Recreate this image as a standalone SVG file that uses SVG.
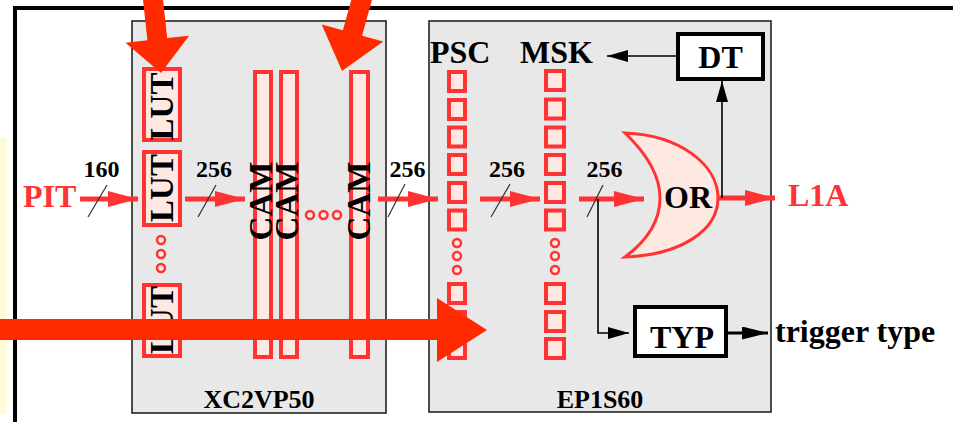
<svg xmlns="http://www.w3.org/2000/svg" width="953" height="422" viewBox="0 0 953 422">
<defs>
<style>
.t{font-family:"Liberation Serif","Times New Roman",serif;font-weight:bold;}
.blk{fill:#000;}
.red{fill:#ff3333;}
.chip{fill:#e8e8e8;stroke:#222;stroke-width:1.6;}
.cell{fill:#fde8e2;stroke:#ff3333;stroke-width:4;}
.dot{fill:#fde8e2;stroke:#ff3333;stroke-width:2.5;}
.wbox{fill:#fff;stroke:#000;stroke-width:4;}
.rl{stroke:#ff3333;stroke-width:5;fill:none;}
.slash{stroke:#333;stroke-width:1.2;fill:none;}
.bl{stroke:#000;stroke-width:1.6;fill:none;}
.ann{fill:#ff2a00;}
</style>
<marker id="rh" markerUnits="userSpaceOnUse" markerWidth="30" markerHeight="16" refX="30" refY="8" orient="auto">
<path d="M0,0 L30,8 L0,16 Z" fill="#ff3333"/>
</marker>
<marker id="bh" markerUnits="userSpaceOnUse" markerWidth="21" markerHeight="12" refX="21" refY="6" orient="auto">
<path d="M0,0 L21,6 L0,12 Z" fill="#000"/>
</marker>
<marker id="bh2" markerUnits="userSpaceOnUse" markerWidth="26" markerHeight="13" refX="26" refY="6.5" orient="auto">
<path d="M0,0 L26,6.5 L0,13 Z" fill="#000"/>
</marker>
</defs>

<rect x="0" y="137" width="7" height="276" fill="#fffbd8"/>
<path d="M15,424 L15,8 L955,8" fill="none" stroke="#000" stroke-width="4"/>

<g id="xc2vp50">
<rect class="chip" x="132" y="21" width="254" height="392"/>
<text class="t blk" x="259" y="408" font-size="26" text-anchor="middle">XC2VP50</text>
</g>
<g id="ep1s60">
<rect class="chip" x="429" y="21" width="342" height="391"/>
<text class="t blk" x="600" y="408" font-size="26" text-anchor="middle">EP1S60</text>
</g>

<g id="lut1">
<rect class="cell" x="144" y="69" width="36" height="71"/>
<text class="t blk" font-size="33" text-anchor="middle" transform="translate(173,106.5) rotate(-90)">LUT</text>
</g>
<g id="lut2">
<rect class="cell" x="144" y="152" width="36" height="73"/>
<text class="t blk" font-size="33" text-anchor="middle" transform="translate(173,188) rotate(-90)">LUT</text>
</g>
<g id="lut-dots">
<circle class="dot" cx="161" cy="240" r="4"/>
<circle class="dot" cx="161" cy="254" r="4"/>
<circle class="dot" cx="161" cy="268" r="4"/>
</g>
<g id="lut3">
<rect class="cell" x="144" y="285" width="36" height="71"/>
<text class="t blk" font-size="33" text-anchor="middle" transform="translate(173,320) rotate(-90)">LUT</text>
</g>

<g id="cam1">
<rect class="cell" x="255" y="72" width="16" height="285"/>
<text class="t blk" font-size="33" text-anchor="middle" transform="translate(272,201) rotate(-90)">CAM</text>
</g>
<g id="cam2">
<rect class="cell" x="281" y="72" width="16" height="285"/>
<text class="t blk" font-size="33" text-anchor="middle" transform="translate(298,201) rotate(-90)">CAM</text>
</g>
<g id="cam-dots">
<circle class="dot" cx="310" cy="215" r="4"/>
<circle class="dot" cx="323.5" cy="215" r="4"/>
<circle class="dot" cx="337" cy="215" r="4"/>
</g>
<g id="cam3">
<rect class="cell" x="351" y="72" width="17" height="285"/>
<text class="t blk" font-size="33" text-anchor="middle" transform="translate(370,201) rotate(-90)">CAM</text>
</g>

<g id="psc">
<text class="t blk" x="430" y="63" font-size="32">PSC</text>
<rect class="cell" x="449" y="72" width="16" height="19"/>
<rect class="cell" x="449" y="100" width="16" height="19"/>
<rect class="cell" x="449" y="127.5" width="16" height="19"/>
<rect class="cell" x="449" y="155" width="16" height="19"/>
<rect class="cell" x="449" y="183" width="16" height="19"/>
<rect class="cell" x="449" y="210.5" width="16" height="19"/>
<circle class="dot" cx="457" cy="243" r="4"/>
<circle class="dot" cx="457" cy="256" r="4"/>
<circle class="dot" cx="457" cy="270" r="4"/>
<rect class="cell" x="449" y="284" width="16" height="19"/>
<rect class="cell" x="449" y="312" width="16" height="19"/>
<rect class="cell" x="449" y="339" width="16" height="19"/>
</g>

<g id="msk">
<text class="t blk" x="520" y="63" font-size="32">MSK</text>
<rect class="cell" x="546" y="71" width="18" height="19"/>
<rect class="cell" x="546" y="99.5" width="18" height="19"/>
<rect class="cell" x="546" y="127.5" width="18" height="19"/>
<rect class="cell" x="546" y="155" width="18" height="19"/>
<rect class="cell" x="546" y="183" width="18" height="19"/>
<rect class="cell" x="546" y="210.5" width="18" height="19"/>
<circle class="dot" cx="555" cy="243" r="4"/>
<circle class="dot" cx="555" cy="256" r="4"/>
<circle class="dot" cx="555" cy="270" r="4"/>
<rect class="cell" x="546" y="284" width="18" height="19"/>
<rect class="cell" x="546" y="312" width="18" height="19"/>
<rect class="cell" x="546" y="339" width="18" height="19"/>
</g>

<g id="or">
<path d="M625,133 C680,135 718,165 718,198 C718,231 680,255 625,257 C648,240 660,220 660,198 C660,176 648,155 625,133 Z" fill="#fde8e2" stroke="#ff3333" stroke-width="3"/>
<text class="t blk" x="688" y="208" font-size="32" text-anchor="middle">OR</text>
</g>

<g id="dt">
<rect class="wbox" x="678" y="34" width="85" height="45"/>
<text class="t blk" x="720.5" y="68" font-size="32" text-anchor="middle">DT</text>
</g>

<g id="typ">
<rect class="wbox" x="635" y="307" width="91" height="49"/>
<text class="t blk" x="682" y="348" font-size="32" text-anchor="middle">TYP</text>
</g>

<g id="io-labels">
<text class="t red" x="23" y="207" font-size="32">PIT</text>
<text class="t red" x="788" y="206" font-size="32">L1A</text>
<text class="t blk" x="775" y="342" font-size="32">trigger type</text>
</g>

<g id="connectors">
<line class="rl" x1="80" y1="199" x2="138" y2="199" marker-end="url(#rh)"/>
<line class="rl" x1="185" y1="199" x2="245" y2="199" marker-end="url(#rh)"/>
<line class="rl" x1="378" y1="199" x2="438" y2="199" marker-end="url(#rh)"/>
<line class="rl" x1="480" y1="199" x2="540" y2="199" marker-end="url(#rh)"/>
<line class="rl" x1="579" y1="199" x2="644" y2="199" marker-end="url(#rh)"/>
<line class="rl" x1="718" y1="198" x2="775" y2="198" marker-end="url(#rh)"/>

<line class="slash" x1="88" y1="217" x2="107" y2="185"/>
<line class="slash" x1="198" y1="217" x2="216" y2="185"/>
<line class="slash" x1="388" y1="217" x2="405" y2="184"/>
<line class="slash" x1="491" y1="217" x2="510" y2="184"/>
<line class="slash" x1="587" y1="217" x2="603" y2="185"/>

<text class="t blk" x="101.5" y="177" font-size="24" text-anchor="middle">160</text>
<text class="t blk" x="214" y="177" font-size="24" text-anchor="middle">256</text>
<text class="t blk" x="407.5" y="177" font-size="24" text-anchor="middle">256</text>
<text class="t blk" x="507" y="177" font-size="24" text-anchor="middle">256</text>
<text class="t blk" x="604.5" y="177" font-size="24" text-anchor="middle">256</text>

<polyline class="bl" points="598,199 598,333 629,333" marker-end="url(#bh)"/>
<line class="bl" x1="678" y1="56" x2="607" y2="56" marker-end="url(#bh)"/>
<line class="bl" x1="722" y1="198" x2="722" y2="81" marker-end="url(#bh)"/>
<line x1="726" y1="333" x2="768" y2="333" stroke="#000" stroke-width="3" marker-end="url(#bh2)"/>
</g>

<g id="annotations">
<polygon class="ann" points="142.6,-4 147.4,40.3 125.5,42.7 161,73 189.1,35.7 167.2,38.1 162.4,-6"/>
<polygon class="ann" points="353.4,-7.7 342.9,30.3 321.7,24.5 342,71 383.3,41.5 362.1,35.7 372.6,-2.3"/>
<polygon class="ann" points="-5,319 437,319 437,298 487,330 437,362 437,340 -5,340"/>
</g>
</svg>
